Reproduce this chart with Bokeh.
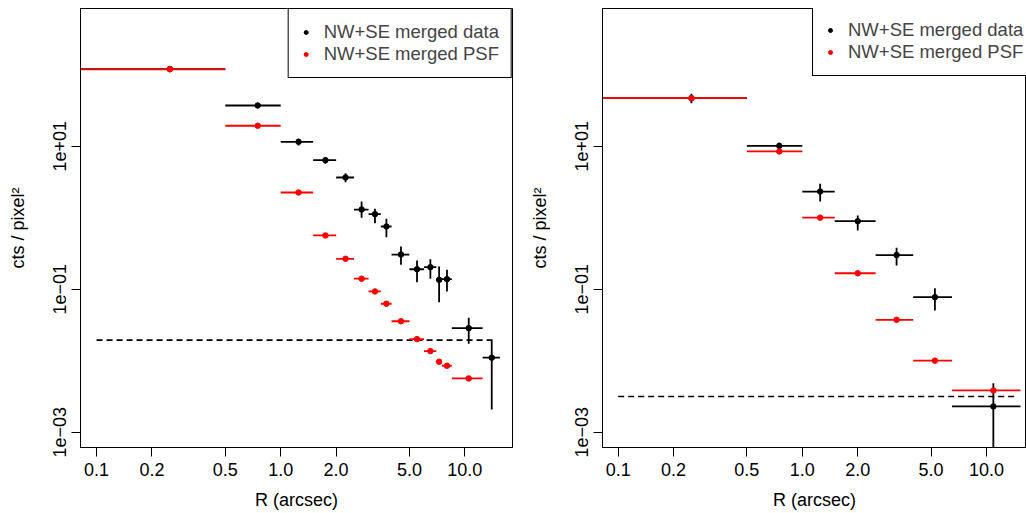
from bokeh.plotting import figure
from bokeh.models import Range1d, FixedTicker, Legend, LegendItem
from bokeh.layouts import row
from bokeh.embed import file_html
from bokeh.resources import INLINE

# ---------------- data ----------------
# Left panel: radial bins (arcsec), merged data and PSF profiles (cts / pixel^2)
l_lo = [0.0, 0.5, 1.0, 1.5, 2.0, 2.5, 3.0, 3.5, 4.0, 5.0, 6.0, 7.0, 7.5, 8.5, 12.5]
l_hi = [0.5, 1.0, 1.5, 2.0, 2.5, 3.0, 3.5, 4.0, 5.0, 6.0, 7.0, 7.5, 8.5, 12.5, 15.5]
l_data = [120, 37.1, 11.5, 6.37, 3.65, 1.30, 1.12, 0.753, 0.305, 0.190, 0.203, 0.135, 0.138, 0.0285, 0.011]
l_data_up = [126, 38.6, 12.7, 7.0, 4.19, 1.69, 1.33, 0.966, 0.395, 0.252, 0.263, 0.207, 0.187, 0.0398, 0.0192]
l_data_dn = [114, 35.7, 10.2, 5.67, 3.14, 0.997, 0.838, 0.533, 0.219, 0.125, 0.140, 0.0658, 0.093, 0.0172, 0.00207]
l_psf = [119, 19.3, 2.25, 0.564, 0.266, 0.140, 0.0929, 0.0625, 0.0356, 0.0200, 0.0136, 0.00966, 0.00849, 0.00564]
l_bkg = 0.0194
l_bkg_x = [0.1, 14.3]

# Right panel
r_lo = [0.0, 0.5, 1.0, 1.5, 2.5, 4.0, 6.5]
r_hi = [0.5, 1.0, 1.5, 2.5, 4.0, 6.5, 15.3]
r_data = [46.9, 10.1, 2.32, 0.893, 0.30, 0.0773, 0.00229]
r_data_up = [54, 11.2, 2.98, 1.07, 0.379, 0.103, 0.00484]
r_data_dn = [40, 9.1, 1.69, 0.662, 0.215, 0.0504, 0.0]
r_psf = [46.9, 8.44, 1.0, 0.167, 0.0373, 0.0100, 0.00383]
r_bkg = 0.00316
r_bkg_x = [0.1, 14.6]

x_ticks = [0.1, 0.2, 0.5, 1.0, 2.0, 5.0, 10.0]
x_tick_labels = ["0.1", "0.2", "0.5", "1.0", "2.0", "5.0", "10.0"]
y_ticks = [10.0, 0.1, 0.001]
y_tick_labels = ["1e+01", "1e\u221201", "1e\u221203"]

legend_labels = ["NW+SE merged data", "NW+SE merged PSF"]
x_label = "R (arcsec)"
y_label = "cts / pixel\u00b2"

FONT = "Liberation Sans"
XMIN_FLOOR = 1e-3
YMIN_FLOOR = 1e-6
FRAME_H = 439
LEGEND_H = 68


def panel(lo, hi, data, up, dn, psf, bkg, bkg_x, xr, frame_w, border_left, border_right,
          legend_loc):
    p = figure(x_axis_type="log", y_axis_type="log",
               x_range=Range1d(*xr), y_range=Range1d(6.1e-4, 843),
               frame_width=frame_w, frame_height=FRAME_H,
               min_border_left=border_left, min_border_right=border_right,
               min_border_top=8, min_border_bottom=40,
               output_backend="svg", toolbar_location=None)
    p.xgrid.visible = False
    p.ygrid.visible = False
    p.outline_line_color = "black"
    p.outline_line_width = 1
    p.outline_line_alpha = 1.0
    p.background_fill_color = "white"
    p.border_fill_color = "white"

    for ax in (p.xaxis[0], p.yaxis[0]):
        ax.axis_line_color = "black"
        ax.major_tick_line_color = "black"
        ax.major_tick_in = 0
        ax.major_tick_out = 9
        ax.minor_tick_line_color = None
        ax.major_label_text_font = FONT
        ax.major_label_text_font_size = "18px"
        ax.major_label_text_color = "black"
        ax.axis_label_text_font = FONT
        ax.axis_label_text_font_size = "18px"
        ax.axis_label_text_font_style = "normal"
        ax.axis_label_text_color = "black"

    p.xaxis.ticker = FixedTicker(ticks=x_ticks)
    p.xaxis.major_label_overrides = dict(zip(x_ticks, x_tick_labels))
    p.xaxis.major_label_standoff = 6
    p.xaxis.axis_label = x_label
    p.xaxis.axis_label_standoff = 11

    p.yaxis.ticker = FixedTicker(ticks=y_ticks)
    p.yaxis.major_label_overrides = dict(zip(y_ticks, y_tick_labels))
    p.yaxis.major_label_orientation = "vertical"
    p.yaxis.major_label_standoff = 5
    p.yaxis.axis_label = y_label
    p.yaxis.axis_label_standoff = 23

    xc = [(a + b) / 2 for a, b in zip(lo, hi)]
    x0 = [max(a, XMIN_FLOOR) for a in lo]
    dn_c = [max(v, YMIN_FLOOR) for v in dn]

    # background level
    p.line(bkg_x, [bkg, bkg], line_color="black", line_width=1.6, line_dash="6 4")

    # data (black)
    p.segment(x0=x0, y0=data, x1=hi, y1=data, line_color="black", line_width=1.8)
    p.segment(x0=xc, y0=dn_c, x1=xc, y1=up, line_color="black", line_width=1.8)
    r_data_pts = p.scatter(xc, data, size=5.5, color="black")

    # PSF (red)
    m = len(psf)
    p.segment(x0=x0[:m], y0=psf, x1=hi[:m], y1=psf, line_color="#ff0000", line_width=1.8)
    r_psf_pts = p.scatter(xc[:m], psf, size=5.5, color="#ff0000")

    legend = Legend(items=[LegendItem(label=legend_labels[0], renderers=[r_data_pts]),
                           LegendItem(label=legend_labels[1], renderers=[r_psf_pts])],
                    location=legend_loc)
    legend.margin = 0
    legend.padding = 12
    legend.spacing = 0
    legend.label_height = 22
    legend.glyph_height = 22
    legend.glyph_width = 10
    legend.label_standoff = 13
    legend.label_text_font = FONT
    legend.label_text_font_size = "18.5px"
    legend.border_line_color = "black"
    legend.border_line_width = 1
    legend.border_line_alpha = 1.0
    legend.background_fill_alpha = 1.0
    p.add_layout(legend, "center")
    return p


p1 = panel(l_lo, l_hi, l_data, l_data_up, l_data_dn, l_psf, l_bkg, l_bkg_x,
           (0.0818, 18.15), 432, 80, 10, "top_right")
p2 = panel(r_lo, r_hi, r_data, r_data_up, r_data_dn, r_psf, r_bkg, r_bkg_x,
           (0.0822, 16.5), 424, 80, 0, (210, FRAME_H - LEGEND_H))

layout = row(p1, p2)
open("out.html", "w").write(file_html(layout, INLINE))
